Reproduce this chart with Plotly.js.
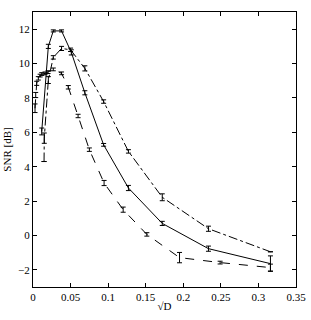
<!DOCTYPE html>
<html>
<head>
<meta charset="utf-8">
<script src="https://cdn.plot.ly/plotly-3.0.1.min.js"></script>
<style>html,body{margin:0;padding:0;background:#fff;}#chart{width:311px;height:320px;}</style>
</head>
<body>
<div id="chart"></div>
<script>
// Solid series
const xSolid = [0.0116, 0.0204, 0.027, 0.038, 0.051, 0.069, 0.094, 0.127, 0.172, 0.2335, 0.316];
const ySolid = [6.05, 11.0, 11.9, 11.9, 10.65, 8.3, 5.27, 2.76, 0.70, -0.77, -1.64];
const eSolid = [0.2, 0.12, 0.06, 0.06, 0.15, 0.12, 0.08, 0.15, 0.12, 0.15, 0.45];

// Dashed series
const xDash = [0.0027, 0.0036, 0.0049, 0.0071, 0.0095, 0.0116, 0.016, 0.020, 0.027, 0.038, 0.047, 0.060, 0.075, 0.0946, 0.120, 0.1515, 0.195, 0.249, 0.316];
const yDash = [7.4, 8.17, 8.85, 9.14, 9.3, 9.39, 9.43, 9.5, 9.66, 9.43, 8.62, 6.95, 4.99, 3.05, 1.5, 0.06, -1.29, -1.58, -1.87];
const eDash = [0.25, 0.15, 0.12, 0.1, 0.08, 0.08, 0.08, 0.08, 0.08, 0.08, 0.1, 0.1, 0.1, 0.15, 0.15, 0.1, 0.3, 0.08, 0.2];

// Dash-dot series
const xDashDot = [0.0147, 0.0150, 0.0204, 0.027, 0.038, 0.050, 0.069, 0.094, 0.127, 0.172, 0.2335, 0.316];
const yDashDot = [4.3, 5.66, 9.04, 10.36, 10.88, 10.8, 9.72, 7.79, 4.89, 2.22, 0.39, -0.95];
const eDashDot = [null, 0.3, 0.2, 0.1, 0.12, 0.1, 0.15, 0.1, 0.1, 0.2, 0.15, null];

const xTicks = [0, 0.05, 0.1, 0.15, 0.2, 0.25, 0.3, 0.35];
const xTickText = ['0', '0.05', '0.1', '0.15', '0.2', '0.25', '0.3', '0.35'];
const yTicks = [-2, 0, 2, 4, 6, 8, 10, 12];

function series(x, y, e, dash) {
  return {
    x: x, y: y, type: 'scatter', mode: 'lines',
    line: {color: '#000', width: 1, dash: dash},
    error_y: {type: 'data', array: e, visible: true, color: '#000', thickness: 1, width: 2.5},
    showlegend: false, hoverinfo: 'skip'
  };
}

const data = [
  series(xSolid, ySolid, eSolid, 'solid'),
  series(xDash, yDash, eDash, 'dash'),
  series(xDashDot, yDashDot, eDashDot, 'dashdot')
];

const font = {family: 'Liberation Serif, Times New Roman, serif', size: 11, color: '#000'};

const layout = {
  width: 311, height: 320,
  margin: {l: 33, r: 15, t: 12, b: 33},
  paper_bgcolor: '#fff', plot_bgcolor: '#fff',
  font: font,
  xaxis: {
    range: [0, 0.35], tickvals: xTicks, ticktext: xTickText,
    ticks: 'inside', ticklen: 4, tickcolor: '#000', tickwidth: 1,
    showline: true, linecolor: '#000', linewidth: 1, mirror: 'ticks',
    showgrid: false, zeroline: false,
    title: {text: '√D', font: font, standoff: 0}
  },
  yaxis: {
    range: [-3, 13], tickvals: yTicks,
    ticks: 'inside', ticklen: 4, tickcolor: '#000', tickwidth: 1,
    showline: true, linecolor: '#000', linewidth: 1, mirror: 'ticks',
    showgrid: false, zeroline: false,
    title: {text: 'SNR [dB]', font: font, standoff: 4}
  }
};

Plotly.newPlot('chart', data, layout, {staticPlot: true, displayModeBar: false});
</script>
</body>
</html>
